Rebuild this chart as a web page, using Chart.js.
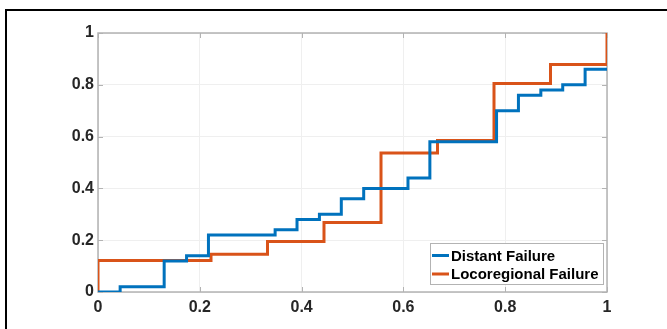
<!DOCTYPE html>
<html>
<head>
<meta charset="utf-8">
<script src="https://cdn.jsdelivr.net/npm/chart.js@4"></script>
<style>
  html, body { margin: 0; padding: 0; background: #fff; }
  #wrap { position: relative; width: 667px; height: 329px; overflow: hidden; }
  #frame {
    position: absolute; left: 5px; top: 9px; width: 700px; height: 400px;
    border-top: 2.5px solid #000; border-left: 2.5px solid #000; box-sizing: border-box;
  }
  canvas { position: absolute; left: 0; top: 0; }
</style>
</head>
<body>
<div id="wrap">
  <div id="frame"></div>
  <canvas id="c" width="667" height="329"></canvas>
</div>
<script>
"use strict";

// step positions (x) and the level reached at each step (y)
const distantX = [0, 0.0435, 0.130, 0.174, 0.217, 0.348, 0.391, 0.435, 0.478, 0.522, 0.609, 0.652, 0.783, 0.826, 0.870, 0.913, 0.957, 1];
const distantY = [0, 0.02, 0.12, 0.14, 0.22, 0.24, 0.28, 0.30, 0.36, 0.40, 0.44, 0.58, 0.70, 0.76, 0.78, 0.80, 0.86, 0.86];
const locoX = [0, 0, 0.222, 0.333, 0.444, 0.556, 0.667, 0.778, 0.889, 1];
const locoY = [0, 0.122, 0.146, 0.195, 0.268, 0.537, 0.585, 0.805, 0.878, 1];
const xTicks = [0, 0.2, 0.4, 0.6, 0.8, 1];
const yTicks = [0, 0.2, 0.4, 0.6, 0.8, 1];

const BLUE = "#0072BD";
const ORANGE = "#D95319";
const FONT = { family: "'Liberation Sans', Arial, sans-serif", size: 16, weight: "bold" };

function pts(xs, ys) { return xs.map((x, i) => ({ x, y: ys[i] })); }

// box around the axes plus inward tick marks, MATLAB style (under the lines)
const boxPlugin = {
  id: "box",
  beforeDatasetsDraw(chart) {
    const { ctx, chartArea: a, scales } = chart;
    ctx.save();
    ctx.strokeStyle = "#b3b3b3";
    ctx.lineWidth = 1;
    ctx.beginPath();
    xTicks.forEach((v) => {
      const px = Math.round(scales.x.getPixelForValue(v)) + 0.5;
      ctx.moveTo(px, a.bottom); ctx.lineTo(px, a.bottom - 5);
      ctx.moveTo(px, a.top); ctx.lineTo(px, a.top + 5);
    });
    yTicks.forEach((v) => {
      const py = Math.round(scales.y.getPixelForValue(v)) + 0.5;
      ctx.moveTo(a.left, py); ctx.lineTo(a.left + 5, py);
      ctx.moveTo(a.right, py); ctx.lineTo(a.right - 5, py);
    });
    ctx.stroke();
    ctx.lineWidth = 1.5;
    ctx.strokeRect(a.left, a.top, a.right - a.left, a.bottom - a.top);
    ctx.restore();
  },
};

new Chart(document.getElementById("c"), {
  type: "line",
  data: {
    datasets: [
      {
        label: "Distant Failure",
        data: pts(distantX, distantY),
        borderColor: BLUE, backgroundColor: BLUE,
        borderWidth: 3, stepped: true, pointRadius: 0, fill: false,
      },
      {
        label: "Locoregional Failure",
        data: pts(locoX, locoY),
        borderColor: ORANGE, backgroundColor: ORANGE,
        borderWidth: 3, stepped: true, pointRadius: 0, fill: false,
      },
    ],
  },
  options: {
    responsive: false,
    animation: false,
    layout: { padding: { left: 0, top: 33, right: 60, bottom: 0 } },
    plugins: {
      legend: { display: false },
      tooltip: { enabled: false },
    },
    scales: {
      x: {
        type: "linear", min: 0, max: 1,
        afterBuildTicks: (s) => { s.ticks = xTicks.map((v) => ({ value: v })); },
        afterFit: (s) => { s.height = 37; },
        ticks: { font: FONT, color: "#262626", padding: 6, maxRotation: 0,
          callback: (v) => String(v) },
        grid: { color: "#efefef", drawTicks: false },
        border: { display: false },
      },
      y: {
        min: 0, max: 1,
        afterBuildTicks: (s) => { s.ticks = yTicks.map((v) => ({ value: v })); },
        afterFit: (s) => { s.width = 98; },
        ticks: { font: FONT, color: "#262626", padding: 4,
          callback: (v) => String(v) },
        grid: { color: "#efefef", drawTicks: false },
        border: { display: false },
      },
    },
  },
  plugins: [boxPlugin, {
    id: "legendBox",
    afterDraw(chart) {
      const { ctx } = chart;
      const sets = chart.data.datasets;
      const left = 430, top = 243, w = 173, h = 41;
      ctx.save();
      ctx.fillStyle = "#fff";
      ctx.fillRect(left, top, w, h);
      ctx.strokeStyle = "#b3b3b3";
      ctx.lineWidth = 1;
      ctx.strokeRect(left + 0.5, top + 0.5, w, h);
      ctx.font = "bold 15px 'Liberation Sans', Arial, sans-serif";
      ctx.textBaseline = "middle";
      sets.forEach((d, i) => {
        const y = top + 12.5 + i * 18.5;
        ctx.strokeStyle = d.borderColor;
        ctx.lineWidth = 3;
        ctx.beginPath(); ctx.moveTo(432, y); ctx.lineTo(449, y); ctx.stroke();
        ctx.fillStyle = "#000";
        ctx.fillText(d.label, 451, y + 1);
      });
      ctx.restore();
    },
  }],
});
</script>
</body>
</html>
